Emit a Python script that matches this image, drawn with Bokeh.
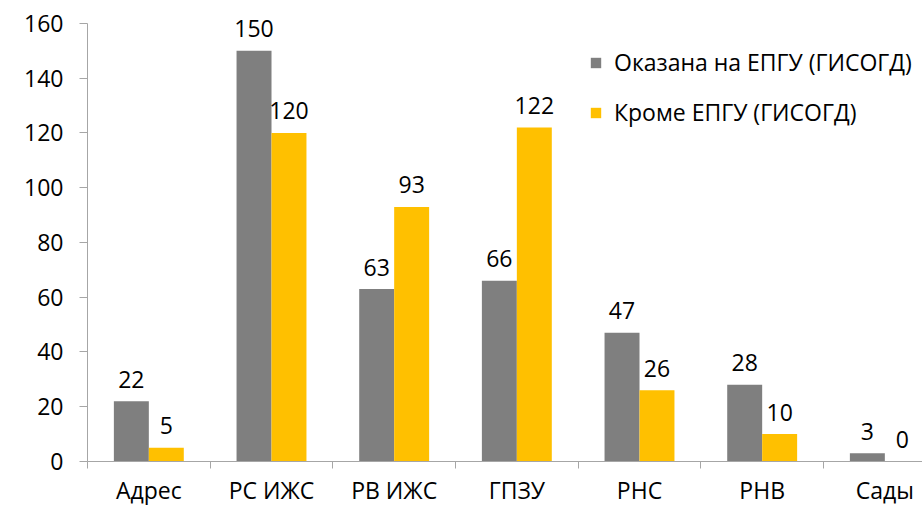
from bokeh.plotting import figure
from bokeh.models import ColumnDataSource, Range1d, FixedTicker, Legend, LegendItem
from bokeh.embed import file_html
from bokeh.resources import INLINE
from bokeh.core.properties import value

categories = ["Адрес", "РС ИЖС", "РВ ИЖС", "ГПЗУ", "РНС", "РНВ", "Сады"]
epgu = [22, 150, 63, 66, 47, 28, 3]
other = [5, 120, 93, 122, 26, 10, 0]
series_names = ["Оказана на ЕПГУ (ГИСОГД)", "Кроме ЕПГУ (ГИСОГД)"]
y_ticks = [0, 20, 40, 60, 80, 100, 120, 140, 160]

GRAY = "#7f7f7f"
YELLOW = "#ffc000"
AXIS = "#a6a6a6"
FONT = "Open Sans"
FS = "23px"
BW = 0.285
OFF = BW / 2

idx = list(range(len(categories)))
src1 = ColumnDataSource(dict(x=[i - OFF for i in idx], y=epgu, lab=[str(v) for v in epgu]))
src2 = ColumnDataSource(dict(x=[i + OFF for i in idx], y=other, lab=[str(v) for v in other]))

p = figure(width=922, height=508, output_backend="svg", toolbar_location=None,
           x_range=Range1d(-0.5, 6.307), y_range=Range1d(0, 168.4),
           min_border_left=87, min_border_right=0, min_border_top=0, min_border_bottom=47)
p.outline_line_color = None
p.xgrid.visible = False
p.ygrid.visible = False

r1 = p.vbar(x="x", top="y", width=BW, source=src1, fill_color=GRAY, line_color=None)
r2 = p.vbar(x="x", top="y", width=BW, source=src2, fill_color=YELLOW, line_color=None)

for s in (src1, src2):
    p.text(x="x", y="y", text="lab", source=s, text_align="center", text_baseline="alphabetic",
           y_offset=-22, text_font=value(FONT), text_font_size=FS, text_color="#000000")

# x axis
p.xaxis.ticker = FixedTicker(ticks=idx, minor_ticks=[i - 0.5 for i in range(len(categories) + 1)])
p.xaxis.major_label_overrides = {i: c for i, c in enumerate(categories)}
p.xaxis.major_tick_out = 0
p.xaxis.major_tick_in = 0
p.xaxis.minor_tick_out = 7
p.xaxis.minor_tick_in = 0
p.xaxis.minor_tick_line_color = AXIS
p.xaxis.axis_line_color = AXIS
p.xaxis.major_label_standoff = 5
p.xaxis.major_label_text_font = FONT
p.xaxis.major_label_text_font_size = FS
p.xaxis.major_label_text_color = "#000000"

# y axis
p.yaxis.ticker = FixedTicker(ticks=y_ticks)
p.yaxis.bounds = (0, 160)
p.yaxis.major_tick_out = 8
p.yaxis.major_tick_in = 0
p.yaxis.minor_tick_out = 0
p.yaxis.minor_tick_in = 0
p.yaxis.major_tick_line_color = AXIS
p.yaxis.axis_line_color = AXIS
p.yaxis.major_label_standoff = 16
p.yaxis.major_label_text_font = FONT
p.yaxis.major_label_text_font_size = FS
p.yaxis.major_label_text_color = "#000000"

legend = Legend(items=[LegendItem(label=series_names[0], renderers=[r1]),
                       LegendItem(label=series_names[1], renderers=[r2])],
                location=(502, 333), orientation="vertical",
                glyph_width=13, glyph_height=13, label_standoff=12,
                spacing=18, padding=0, margin=0,
                border_line_color=None, background_fill_alpha=0,
                label_text_font=FONT, label_text_font_size=FS, label_text_color="#000000")
p.add_layout(legend, "center")

open("out.html", "w").write(file_html(p, INLINE))
